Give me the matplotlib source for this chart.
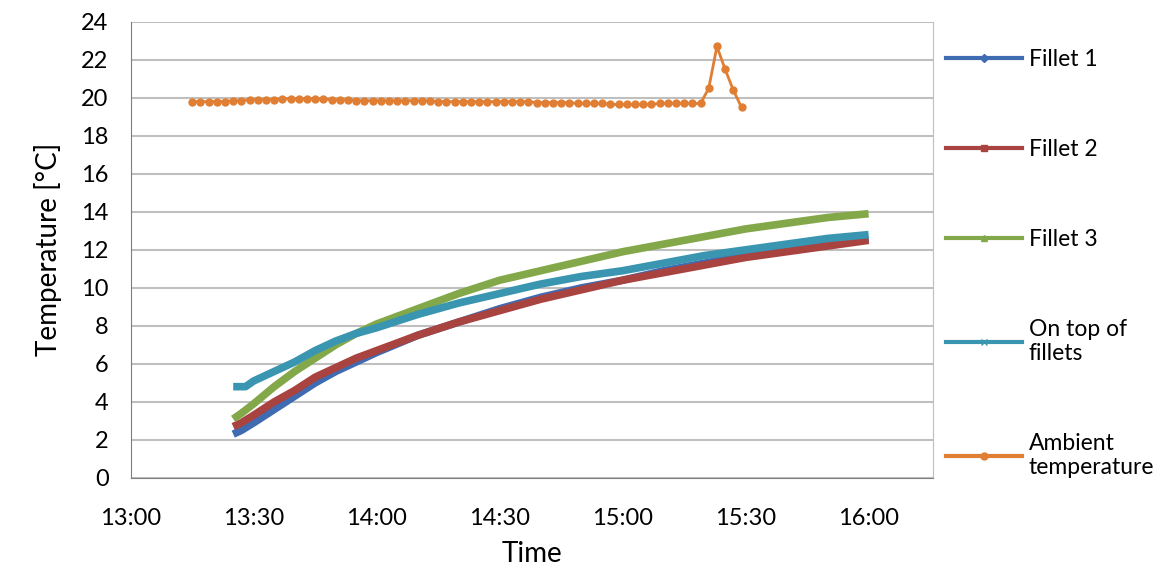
import matplotlib
matplotlib.use("Agg")
import matplotlib.pyplot as plt
from matplotlib.lines import Line2D

plt.rcParams['font.family'] = ['Lato', 'DejaVu Sans']

# time in minutes after 13:00
t_f = [25, 27, 30, 35, 40, 45, 50, 55, 60, 70, 80, 90, 100, 110, 120, 130, 140, 150, 160, 170, 180]
fillet1 = [2.3, 2.5, 2.9, 3.6, 4.3, 5.0, 5.6, 6.1, 6.6, 7.5, 8.2, 8.9, 9.5, 10.0, 10.4, 10.9, 11.3, 11.7, 12.0, 12.3, 12.6]
fillet2 = [2.7, 2.9, 3.3, 4.0, 4.6, 5.3, 5.8, 6.3, 6.7, 7.5, 8.2, 8.8, 9.4, 9.9, 10.4, 10.8, 11.2, 11.6, 11.9, 12.2, 12.5]
fillet3 = [3.1, 3.4, 3.9, 4.8, 5.6, 6.3, 7.0, 7.6, 8.1, 8.9, 9.7, 10.4, 10.9, 11.4, 11.9, 12.3, 12.7, 13.1, 13.4, 13.7, 13.9]
t_top = [25, 28, 30, 35, 40, 45, 50, 55, 60, 70, 80, 90, 100, 110, 120, 130, 140, 150, 160, 170, 180]
top = [4.8, 4.8, 5.1, 5.6, 6.1, 6.7, 7.2, 7.6, 7.9, 8.6, 9.2, 9.7, 10.2, 10.6, 10.9, 11.3, 11.7, 12.0, 12.3, 12.6, 12.8]

t_amb = list(range(15, 140, 2)) + [141, 143, 145, 147, 149]
amb_base = [19.8, 19.8, 19.8, 19.8, 19.8, 19.85, 19.85, 19.9, 19.9, 19.9, 19.9, 19.95, 19.95, 19.95,
            19.95, 19.95, 19.95, 19.9, 19.9, 19.9, 19.85, 19.85, 19.85, 19.85, 19.85, 19.85, 19.85,
            19.85, 19.85, 19.85, 19.8, 19.8, 19.8, 19.8, 19.8, 19.8, 19.8, 19.8, 19.8, 19.8, 19.8,
            19.8, 19.75, 19.75, 19.75, 19.75, 19.75, 19.7, 19.7, 19.7, 19.7, 19.65, 19.65, 19.65,
            19.65, 19.65, 19.65, 19.7, 19.7, 19.7, 19.7, 19.7, 19.7]
amb = amb_base[:len(t_amb) - 5] + [20.5, 22.7, 21.5, 20.4, 19.5]

xticks = [0, 30, 60, 90, 120, 150, 180]
xlabels = ['13:00', '13:30', '14:00', '14:30', '15:00', '15:30', '16:00']

fig = plt.figure(figsize=(11.57, 5.73), dpi=100)
ax = fig.add_axes([0.113, 0.166, 0.693, 0.796])

ax.plot(t_f, fillet1, color='#3F6BB3', lw=5.5, solid_capstyle='butt')
ax.plot(t_f, fillet2, color='#A94340', lw=5.5, solid_capstyle='butt')
ax.plot(t_f, fillet3, color='#83A84A', lw=5.5, solid_capstyle='butt')
ax.plot(t_top, top, color='#3A96B0', lw=5.5, solid_capstyle='butt')
ax.plot(t_amb, amb, color='#E07F33', lw=2, marker='o', ms=5)

ax.set_xlim(0, 195.6)
ax.set_ylim(0, 24)
ax.set_yticks(range(0, 25, 2))
ax.set_xticks(xticks)
ax.set_xticklabels(xlabels)
ax.tick_params(labelsize=17, length=0)
ax.tick_params(axis='x', pad=22)
ax.tick_params(axis='y', pad=16)
ax.yaxis.grid(True, color='#BFBFBF', lw=1.5)
ax.set_axisbelow(True)
ax.spines['top'].set_visible(False)
ax.spines['right'].set_color('#BFBFBF')
ax.spines['left'].set_color('#7F7F7F')
ax.spines['bottom'].set_color('#7F7F7F')
ax.set_xlabel('Time', fontsize=20, labelpad=8)
ax.set_ylabel('Temperature [°C]', fontsize=20, labelpad=14)

handles = [Line2D([], [], color='#3F6BB3', lw=3, marker='D', ms=4),
           Line2D([], [], color='#A94340', lw=3, marker='s', ms=4),
           Line2D([], [], color='#83A84A', lw=3, marker='^', ms=5),
           Line2D([], [], color='#3A96B0', lw=3, marker='x', ms=4),
           Line2D([], [], color='#E07F33', lw=3, marker='o', ms=5)]
labels = ['Fillet 1', 'Fillet 2', 'Fillet 3', 'On top of\nfillets', 'Ambient\ntemperature']
fig.legend(handles, labels, loc='upper left', bbox_to_anchor=(0.8, 0.95), frameon=False,
           fontsize=16.5, labelspacing=3.0, handlelength=3.3, handletextpad=0.3)
fig.savefig('out.png')
